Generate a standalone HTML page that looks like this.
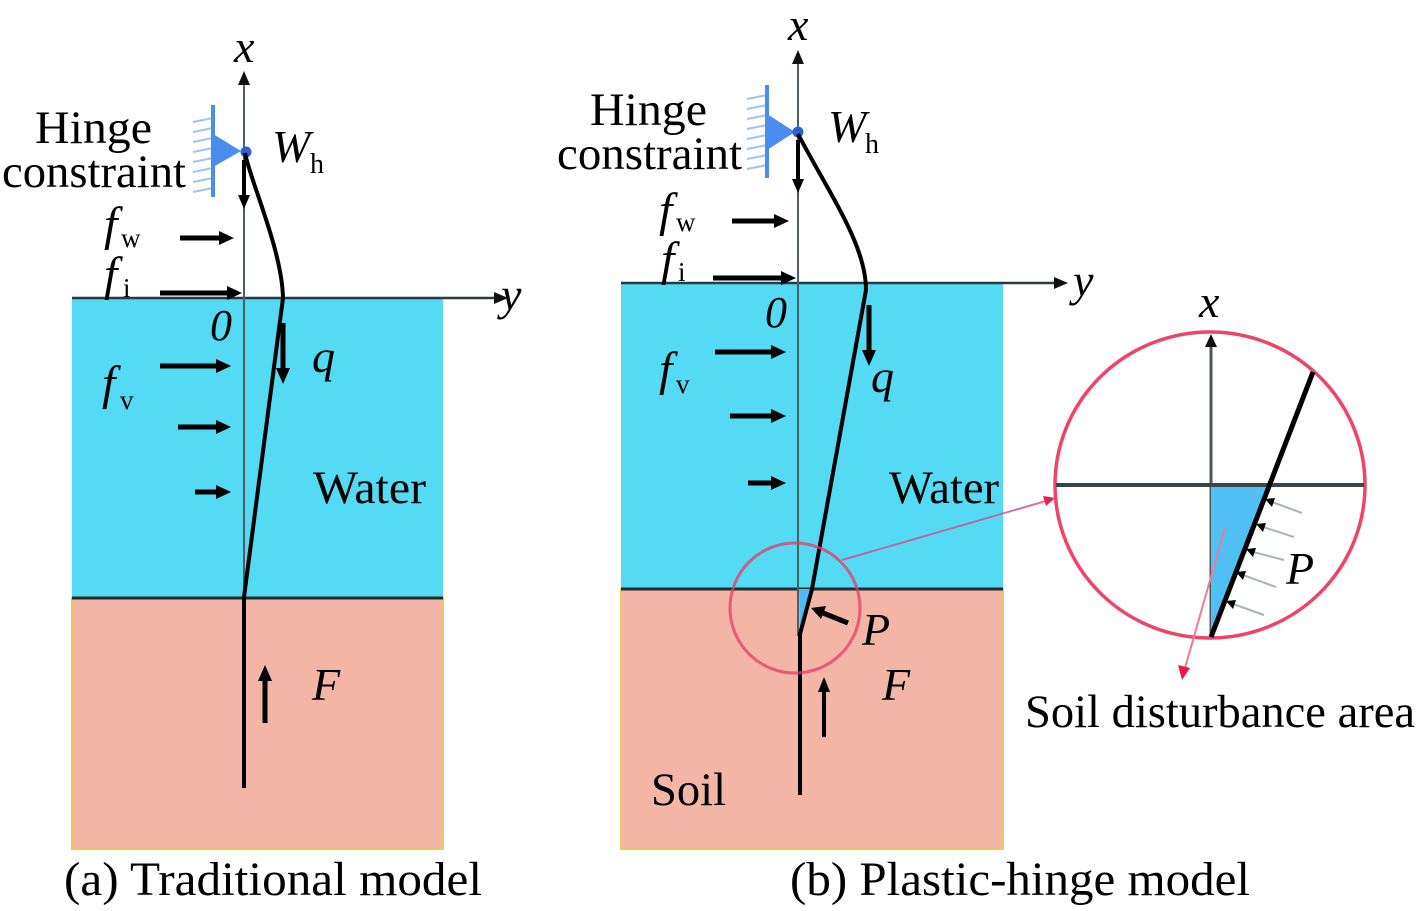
<!DOCTYPE html>
<html>
<head>
<meta charset="utf-8">
<style>
html,body{margin:0;padding:0;background:#fff;}
svg{display:block;}
text{font-family:"Liberation Serif","DejaVu Serif",serif;fill:#000;}
.it{font-style:italic;}
</style>
</head>
<body>
<svg width="1418" height="911" viewBox="0 0 1418 911" xmlns="http://www.w3.org/2000/svg" font-family="Liberation Serif, serif">
<!-- ================= LEFT PANEL ================= -->
<rect x="72" y="298" width="371" height="300" fill="#55daf3"/>
<rect x="72" y="598" width="371" height="251" fill="#f2b5a6" stroke="#f3c35c" stroke-width="2"/>
<line x1="72" y1="598" x2="443" y2="598" stroke="#1e2e30" stroke-width="3"/>
<!-- y axis -->
<line x1="72" y1="298" x2="496" y2="298" stroke="#2a3a40" stroke-width="2.5"/>
<polygon points="508,298 494,292 494,304" fill="#111"/>
<text x="501" y="310" font-size="46" class="it">y</text>
<!-- x axis -->
<line x1="244" y1="597" x2="244" y2="82" stroke="#4d5f66" stroke-width="2"/>
<polygon points="244,71 238,85 250,85" fill="#111"/>
<text x="234" y="62" font-size="46" class="it">x</text>
<!-- hinge -->
<g stroke="#9cc4f4" stroke-width="2">
<line x1="193" y1="122" x2="213" y2="118"/>
<line x1="193" y1="132" x2="213" y2="128"/>
<line x1="193" y1="142" x2="213" y2="138"/>
<line x1="193" y1="152" x2="213" y2="148"/>
<line x1="193" y1="162" x2="213" y2="158"/>
<line x1="193" y1="172" x2="213" y2="168"/>
<line x1="193" y1="182" x2="213" y2="178"/>
<line x1="193" y1="192" x2="213" y2="188"/>
</g>
<line x1="213" y1="105" x2="213" y2="197" stroke="#4a8cf0" stroke-width="4"/>
<polygon points="213,134 213,167 241,151" fill="#4a8cf0"/>
<circle cx="246" cy="152" r="5.5" fill="#2f5fd4"/>
<text x="35" y="143" font-size="47" textLength="117" lengthAdjust="spacingAndGlyphs">Hinge</text>
<text x="2" y="187" font-size="47" textLength="184" lengthAdjust="spacingAndGlyphs">constraint</text>
<text x="272" y="162" font-size="46" class="it">W</text>
<text x="310" y="173" font-size="28">h</text>
<!-- down arrow -->
<line x1="244" y1="160" x2="244" y2="196" stroke="#000" stroke-width="4"/>
<polygon points="244,209 238,195 250,195" fill="#000"/>
<!-- pile -->
<path d="M245,153 C250,180 282,250 283,298 L244,597 L244,788" fill="none" stroke="#000" stroke-width="4"/>
<!-- q -->
<line x1="283" y1="323" x2="283" y2="369" stroke="#000" stroke-width="5"/>
<polygon points="283,384 276,368 290,368" fill="#000"/>
<text x="312" y="372" font-size="46" class="it">q</text>
<text x="210" y="340" font-size="44" class="it">0</text>
<!-- f_w -->
<text x="104" y="240" font-size="48" class="it">f</text>
<text x="121" y="247" font-size="27">w</text>
<line x1="180" y1="238" x2="220" y2="238" stroke="#000" stroke-width="5"/>
<polygon points="234,238 219,231 219,245" fill="#000"/>
<!-- f_i -->
<text x="104" y="290" font-size="48" class="it">f</text>
<text x="123" y="297" font-size="27">i</text>
<line x1="160" y1="293" x2="228" y2="293" stroke="#000" stroke-width="5"/>
<polygon points="242,293 227,286 227,300" fill="#000"/>
<!-- f_v -->
<text x="102" y="399" font-size="48" class="it">f</text>
<text x="120" y="409" font-size="27">v</text>
<line x1="160" y1="366" x2="217" y2="366" stroke="#000" stroke-width="5"/>
<polygon points="231,366 216,359 216,373" fill="#000"/>
<line x1="178" y1="427" x2="217" y2="427" stroke="#000" stroke-width="5"/>
<polygon points="231,427 216,420 216,434" fill="#000"/>
<line x1="195" y1="492" x2="217" y2="492" stroke="#000" stroke-width="5"/>
<polygon points="231,492 216,485 216,499" fill="#000"/>
<text x="313" y="503" font-size="47" textLength="113" lengthAdjust="spacingAndGlyphs">Water</text>
<!-- F -->
<line x1="265" y1="723" x2="265" y2="680" stroke="#000" stroke-width="5"/>
<polygon points="265,665 258,681 272,681" fill="#000"/>
<text x="312" y="700" font-size="46" class="it">F</text>
<text x="64" y="895" font-size="48" textLength="418" lengthAdjust="spacingAndGlyphs">(a) Traditional model</text>

<!-- ================= RIGHT PANEL ================= -->
<rect x="621" y="283" width="382" height="306" fill="#55daf3"/>
<rect x="621" y="589" width="382" height="260" fill="#f2b5a6" stroke="#f3c35c" stroke-width="2"/>
<line x1="621" y1="589" x2="1003" y2="589" stroke="#1e2e30" stroke-width="3"/>
<line x1="621" y1="283" x2="1056" y2="283" stroke="#2a3a40" stroke-width="2.5"/>
<polygon points="1068,283 1054,277 1054,289" fill="#111"/>
<text x="1073" y="296" font-size="46" class="it">y</text>
<line x1="798" y1="636" x2="798" y2="62" stroke="#4d5f66" stroke-width="2"/>
<polygon points="798,50 792,64 804,64" fill="#111"/>
<text x="788" y="40" font-size="46" class="it">x</text>
<!-- hinge -->
<g stroke="#9cc4f4" stroke-width="2">
<line x1="747" y1="99" x2="767" y2="95"/>
<line x1="747" y1="109" x2="767" y2="105"/>
<line x1="747" y1="119" x2="767" y2="115"/>
<line x1="747" y1="129" x2="767" y2="125"/>
<line x1="747" y1="139" x2="767" y2="135"/>
<line x1="747" y1="149" x2="767" y2="145"/>
<line x1="747" y1="159" x2="767" y2="155"/>
<line x1="747" y1="169" x2="767" y2="165"/>
</g>
<line x1="767" y1="85" x2="767" y2="178" stroke="#4a8cf0" stroke-width="4"/>
<polygon points="767,114 767,150 795,132" fill="#4a8cf0"/>
<circle cx="798" cy="132" r="5.5" fill="#2f5fd4"/>
<text x="590" y="125" font-size="47" textLength="117" lengthAdjust="spacingAndGlyphs">Hinge</text>
<text x="557" y="169" font-size="47" textLength="185" lengthAdjust="spacingAndGlyphs">constraint</text>
<text x="828" y="142" font-size="46" class="it">W</text>
<text x="865" y="153" font-size="28">h</text>
<line x1="798" y1="140" x2="798" y2="180" stroke="#000" stroke-width="4"/>
<polygon points="798,193 792,179 804,179" fill="#000"/>
<!-- pile -->
<polygon points="799,589 812,589 800,634" fill="#4dbcf4"/>
<path d="M798,134 C830,195 866,245 866,290 L812,589 L800,634 L800,795" fill="none" stroke="#000" stroke-width="4"/>
<line x1="869" y1="305" x2="869" y2="351" stroke="#000" stroke-width="5"/>
<polygon points="869,366 862,350 876,350" fill="#000"/>
<text x="871" y="392" font-size="46" class="it">q</text>
<text x="765" y="327" font-size="44" class="it">0</text>
<!-- f_w -->
<text x="659" y="226" font-size="48" class="it">f</text>
<text x="676" y="231" font-size="27">w</text>
<line x1="732" y1="221" x2="775" y2="221" stroke="#000" stroke-width="5"/>
<polygon points="789,221 774,214 774,228" fill="#000"/>
<!-- f_i -->
<text x="661" y="275" font-size="48" class="it">f</text>
<text x="678" y="281" font-size="27">i</text>
<line x1="713" y1="278" x2="782" y2="278" stroke="#000" stroke-width="5"/>
<polygon points="796,278 781,271 781,285" fill="#000"/>
<!-- f_v -->
<text x="659" y="385" font-size="48" class="it">f</text>
<text x="676" y="393" font-size="27">v</text>
<line x1="715" y1="352" x2="772" y2="352" stroke="#000" stroke-width="5"/>
<polygon points="786,352 771,345 771,359" fill="#000"/>
<line x1="730" y1="416" x2="772" y2="416" stroke="#000" stroke-width="5"/>
<polygon points="786,416 771,409 771,423" fill="#000"/>
<line x1="748" y1="483" x2="772" y2="483" stroke="#000" stroke-width="5"/>
<polygon points="786,483 771,476 771,490" fill="#000"/>
<text x="889" y="503" font-size="47" textLength="110" lengthAdjust="spacingAndGlyphs">Water</text>
<!-- small circle -->
<ellipse cx="795" cy="608" rx="65" ry="65" fill="none" stroke="#ea3a68" stroke-width="3" opacity="0.75"/>
<!-- P arrow -->
<line x1="848" y1="623" x2="823" y2="613" stroke="#000" stroke-width="5"/>
<polygon points="811,608 826,606 821,619" fill="#000"/>
<text x="862" y="645" font-size="46" class="it">P</text>
<!-- F -->
<line x1="824" y1="737" x2="824" y2="691" stroke="#000" stroke-width="4"/>
<polygon points="824,677 818,692 830,692" fill="#000"/>
<text x="882" y="700" font-size="46" class="it">F</text>
<text x="651" y="805" font-size="47" textLength="75" lengthAdjust="spacingAndGlyphs">Soil</text>
<!-- connector -->
<line x1="842" y1="560" x2="1046" y2="501" stroke="#d0508a" stroke-width="2" opacity="0.8"/>
<polygon points="1055,498 1043,496 1046,506" fill="#e8204a"/>
<!-- big circle -->
<ellipse cx="1210" cy="485" rx="155" ry="153" fill="#fff" stroke="#ee4468" stroke-width="3.5"/>
<line x1="1211" y1="637" x2="1211" y2="345" stroke="#4a5a5a" stroke-width="3"/>
<polygon points="1211,334 1205,347 1217,347" fill="#111"/>
<line x1="1056" y1="485" x2="1364" y2="485" stroke="#36464a" stroke-width="4"/>
<polygon points="1211,487 1268,487 1211,636" fill="#50c0f4"/>
<line x1="1313" y1="372" x2="1211" y2="637" stroke="#000" stroke-width="5"/>
<!-- pressure arrows -->
<g stroke="#a8b4b8" stroke-width="2">
<line x1="1272" y1="502" x2="1302" y2="513"/>
<line x1="1263" y1="527" x2="1294" y2="537"/>
<line x1="1253" y1="552" x2="1284" y2="560"/>
<line x1="1243" y1="575" x2="1276" y2="587"/>
<line x1="1233" y1="604" x2="1264" y2="615"/>
</g>
<g fill="#000">
<polygon points="1265,499 1275,498 1272,507"/>
<polygon points="1256,524 1266,523 1263,532"/>
<polygon points="1246,549 1256,548 1253,557"/>
<polygon points="1236,572 1246,571 1243,580"/>
<polygon points="1226,601 1236,600 1233,609"/>
</g>
<text x="1286" y="584" font-size="46" class="it">P</text>
<text x="1199" y="317" font-size="46" class="it">x</text>
<!-- pink arrow -->
<line x1="1225" y1="528" x2="1185" y2="668" stroke="#f07898" stroke-width="2"/>
<polygon points="1182,680 1178,665 1190,668" fill="#ee1848"/>
<text x="1025" y="727" font-size="47" textLength="390" lengthAdjust="spacingAndGlyphs">Soil disturbance area</text>
<text x="790" y="895" font-size="48" textLength="460" lengthAdjust="spacingAndGlyphs">(b) Plastic-hinge model</text>
</svg>
</body>
</html>
